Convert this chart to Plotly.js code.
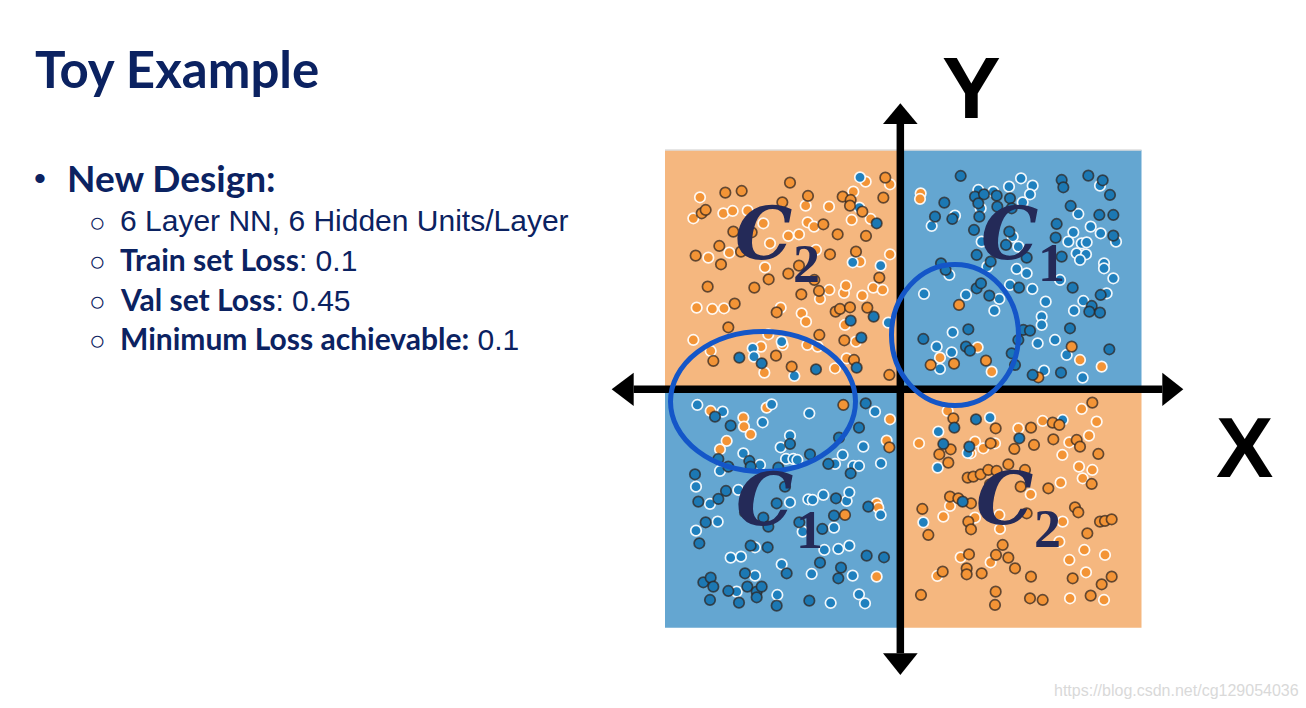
<!DOCTYPE html>
<html>
<head>
<meta charset="utf-8">
<script src="https://cdn.plot.ly/plotly-3.0.1.min.js"></script>
<style>
  html, body { margin: 0; padding: 0; background: #ffffff; }
  #chart { width: 1306px; height: 708px; }
</style>
</head>
<body>
<div id="chart"></div>
<script>
// ---------------- DATA ----------------
// Class C2 (orange) training points (dark outline)
const orangeTrainX = [-0.53,-3.39,-5.33,-4.84,-3.62,-2.85,-1.81,-1.57,-1.59,-0.59,-6.04,-5.92,-5.09,-4.54,-2.39,-1.96,-1.22,-1.11,-6.22,-5.51,-5.46,-4.86,-3.44,-3.12,-2.19,-1.41,-0.71,-5.86,-4.46,-4.03,-3.05,-2.66,-2.52,-5.05,-3.79,-2.02,-1.89,-1.59,-1.07,-5.24,-5.69,-3.81,-3.34,-2.51,-1.76,-1.47,-0.41,
  1.68,0.83,1.53,2.49,4.06,5.06,
  -1.79,-0.41,-1.74,
  5.68,1.51,2.78,3.84,4.49,4.69,1.43,1.09,2.63,3.34,3.93,4.51,5.21,5.31,5.86,1.36,1.94,2.11,2.33,2.56,2.81,3.16,3.66,2.61,3.53,4.36,5.66,0.58,1.41,1.66,2.04,0.76,1.96,2.04,3.71,2.99,5.16,5.26,5.53,5.91,6.06,6.26,1.98,2.79,3.16,3.36,1.19,1.91,1.91,2.36,3.84,5.09,5.96,6.26,0.54,2.78,2.76,3.81,4.19,5.63];
const orangeTrainY = [6.32,6.17,5.87,5.92,5.58,5.77,5.75,5.65,5.48,5.72,5.25,5.35,4.70,4.68,4.92,4.62,5.30,4.57,3.98,4.27,3.72,4.10,3.44,3.68,4.02,4.10,3.32,3.05,3.02,3.27,2.82,3.25,2.92,2.54,2.28,2.30,2.38,2.43,2.42,1.83,0.82,0.98,0.65,1.60,1.44,0.85,0.40,
  2.50,0.70,0.74,0.83,0.33,1.25,
  -0.50,-1.77,-3.80,
  -0.43,-0.90,-1.20,-1.18,-1.03,-1.10,-1.83,-1.98,-1.65,-1.82,-1.70,-1.53,-1.55,-1.75,-1.97,-2.23,-2.68,-2.65,-2.58,-2.45,-2.48,-2.28,-2.45,-2.88,-2.95,-3.00,-2.87,-3.62,-3.25,-3.30,-3.45,-4.40,-4.00,-4.23,-3.75,-4.70,-3.57,-3.72,-4.35,-4.00,-3.98,-3.93,-4.98,-5.00,-5.08,-5.40,-5.50,-5.40,-5.58,-5.55,-5.65,-5.70,-5.88,-5.65,-6.20,-6.10,-6.50,-6.30,-6.35,-6.22];

// Class C2 (orange) test points (white outline)
const orangeTestX = [-1.12,-0.39,-6.09,-2.92,-2.22,-1.49,-6.29,-5.39,-5.11,-4.66,-4.19,-3.99,-3.44,-3.12,-2.86,-2.67,-1.54,-0.97,-5.84,-5.21,-4.14,-2.61,-1.29,-0.39,-2.49,-2.21,-1.77,-1.71,-1.22,-0.89,-0.61,-6.19,-5.72,-5.37,-3.67,-3.04,-2.91,-1.74,-6.29,-5.77,-4.26,-4.16,-4.04,-3.61,-2.87,-2.56,-2.04,-1.41,-1.69,
  0.53,0.51,2.24,1.11,2.66,5.31,5.96,
  -5.77,-4.79,-4.77,-4.57,-4.09,-0.39,-0.49,-5.29,-5.49,-0.79,-0.74,-0.79,
  5.36,5.81,1.34,3.46,4.19,0.48,2.03,2.16,2.41,2.76,4.99,5.58,4.78,3.83,4.73,5.28,5.68,5.39,1.41,1.21,2.16,2.89,2.91,4.79,4.69,5.44,6.06,4.99,1.73,2.63,1.03,5.49,5.01,6.03];
const orangeTestY = [6.20,6.12,5.73,5.48,5.45,5.90,5.10,5.25,5.32,5.33,4.95,4.35,4.57,4.62,4.98,4.85,5.05,5.08,3.92,4.07,3.63,4.15,3.80,4.02,2.68,2.95,2.86,3.08,2.78,3.02,2.95,2.42,2.38,2.40,2.42,2.25,2.00,1.90,1.45,1.12,1.25,0.47,1.62,1.30,1.30,1.25,0.60,1.40,0.90,
  5.85,5.68,1.23,0.92,0.50,0.85,0.65,
  -0.68,-0.88,-1.15,-1.38,-0.58,-0.93,-1.57,-1.58,-1.83,-3.45,-3.58,-5.65,
  -0.62,-1.00,-0.68,-1.20,-0.98,-1.65,-1.95,-1.60,-1.80,-1.65,-1.62,-1.42,-2.00,-3.18,-2.83,-2.35,-2.45,-2.70,-3.53,-3.85,-3.88,-3.80,-4.22,-4.00,-4.60,-4.85,-5.00,-5.15,-5.07,-5.22,-5.63,-5.52,-6.30,-6.35];

// Class C1 (blue) training points (dark outline)
const blueTrainX = [-0.79,-1.57,-0.88,-4.91,-4.24,-2.61,-1.25,-1.39,
  1.73,2.16,2.43,2.26,2.81,2.83,3.21,3.26,4.76,4.81,5.56,5.99,6.21,1.24,0.96,1.48,2.29,2.13,3.19,3.09,2.21,2.63,3.71,4.61,4.58,5.03,4.76,5.89,6.31,6.31,1.14,1.28,2.21,2.34,2.59,3.48,5.09,5.66,5.59,5.91,5.93,3.61,3.81,3.46,5.01,0.61,1.96,1.89,2.01,3.26,3.36,3.89,4.74,6.19,
  -5.64,-5.17,-1.12,-1.32,-5.54,-5.24,-4.61,-4.57,-3.39,-3.74,-2.79,-1.92,-2.24,-1.57,-6.24,-6.14,-5.54,-5.31,-3.54,-3.79,-2.01,-1.04,-2.07,-4.74,-4.19,-4.04,-5.92,-6.11,-3.11,-2.42,-4.57,-4.06,-3.49,-2.49,-1.09,-0.57,-1.86,-1.94,-5.99,-5.77,-5.69,-4.74,-5.24,-4.67,-4.39,-4.24,-4.39,-5.79,-4.92,-3.79,-2.81,
  2.19,1.54,3.49,1.21,1.99,1.79];
const blueTrainY = [4.95,2.03,2.15,0.92,0.75,0.57,1.52,0.62,
  6.37,5.75,5.82,5.55,5.78,5.45,5.70,5.40,6.25,6.03,6.38,6.24,5.80,5.57,5.15,5.08,5.15,4.75,4.70,4.30,4.00,3.80,3.92,4.93,4.52,5.47,3.95,5.20,5.20,4.58,3.75,3.55,3.00,3.15,2.78,3.02,3.02,2.47,2.30,2.27,2.80,1.75,1.73,1.45,1.80,1.48,1.77,1.25,1.13,1.05,0.70,0.40,0.47,1.17,
  -0.85,-1.12,-0.45,-1.18,-2.12,-2.35,-2.18,-2.35,-1.67,-2.38,-1.98,-1.48,-2.27,-2.55,-2.58,-3.40,-3.32,-3.08,-2.95,-3.45,-3.30,-3.55,-3.82,-3.72,-3.88,-4.15,-4.02,-4.65,-4.02,-4.22,-4.72,-4.77,-5.55,-5.23,-5.02,-5.07,-5.38,-5.70,-5.82,-5.68,-5.95,-5.55,-6.08,-5.95,-6.10,-5.95,-6.27,-6.35,-6.43,-6.52,-6.37,
  -0.93,-1.18,-1.50,-1.67,-1.75,-3.40];

// Class C1 (blue) test points (white outline)
const blueTestX = [-1.29,-1.31,-1.51,-0.67,-0.44,-4.51,-4.47,-3.64,-3.26,
  2.26,2.33,2.71,3.18,3.54,3.89,3.81,3.59,5.91,0.86,1.56,2.36,3.29,3.46,2.53,5.26,5.11,4.96,5.36,5.51,5.21,5.49,5.31,5.63,5.93,6.39,6.03,6.03,6.31,1.39,0.63,1.89,2.89,2.74,3.21,3.41,3.71,3.88,4.28,4.16,4.16,4.71,5.41,5.13,6.11,4.04,4.56,1.01,1.49,1.46,1.11,4.23,4.91,5.39,
  -6.17,-5.41,-4.21,-3.94,-2.81,-0.84,-5.49,-4.79,-4.29,-3.39,-3.67,-3.51,-3.29,-3.17,-2.04,-1.81,-1.49,-1.32,-1.19,-0.66,-6.21,-5.79,-4.94,-3.39,-2.84,-2.71,-2.39,-1.69,-1.61,-0.67,-5.56,-6.21,-3.01,-2.07,-4.44,-5.17,-4.86,-3.64,-2.36,-1.94,-1.61,-1.51,-2.74,-4.44,-4.99,-3.77,-2.17,-1.32,-1.14,
  2.61,1.06,4.79,1.04,0.61,1.94];
const blueTestY = [6.33,5.42,3.78,3.68,1.97,1.20,0.95,1.40,0.37,
  5.95,5.40,5.90,6.05,6.30,6.08,5.82,5.58,6.08,4.87,5.18,4.40,4.55,4.25,3.65,5.23,4.68,4.40,4.35,4.38,4.05,4.02,3.85,4.85,4.65,4.40,3.75,3.60,3.30,3.40,2.83,2.80,2.68,2.33,3.10,3.58,3.45,2.98,2.60,2.15,1.90,3.25,2.62,2.33,2.85,1.35,1.45,1.25,1.68,1.08,0.58,0.53,1.00,0.32,
  -0.50,-0.70,-1.02,-0.48,-0.75,-0.70,-2.48,-1.95,-2.30,-1.42,-1.77,-2.12,-2.12,-2.15,-2.27,-2.00,-2.33,-2.33,-1.75,-2.25,-2.95,-3.47,-3.05,-3.42,-3.33,-3.35,-3.20,-3.38,-3.12,-3.80,-4.00,-4.27,-4.30,-4.18,-4.77,-5.08,-5.05,-5.28,-4.85,-4.82,-4.72,-5.62,-5.57,-5.62,-6.10,-6.20,-6.44,-6.18,-6.45,
  -0.88,-1.30,-0.95,-2.38,-4.02,-1.94];

// Text content
const slideTitle = 'Toy Example';
const bulletHead = 'New Design:';
const subBullets = [
  {bold: '', rest: '6 Layer NN, 6 Hidden Units/Layer'},
  {bold: 'Train set Loss', rest: ': 0.1'},
  {bold: 'Val set Loss', rest: ': 0.45'},
  {bold: 'Minimum Loss achievable:', rest: ' 0.1'}
];
const quadrantLabels = [
  {c: 'C', sub: '2', quad: 'topLeft'},
  {c: 'C', sub: '1', quad: 'topRight'},
  {c: 'C', sub: '1', quad: 'bottomLeft'},
  {c: 'C', sub: '2', quad: 'bottomRight'}
];
const axisNames = {x: 'X', y: 'Y'};
const watermark = 'https://blog.csdn.net/cg129054036';

// ---------------- STYLE / LAYOUT ----------------
const W = 1306, H = 708;
const NAVY = '#0b2261';
const LABEL_NAVY = '#242a58';
const ORANGE_BG = '#f5b77f', BLUE_BG = '#64a6d1';
const ORANGE = '#f39436', BLUE = '#1f80be';
const DARK_EDGE = 'rgba(45,35,30,0.72)', WHITE_EDGE = 'rgba(255,255,255,0.92)';
const BOLDFACE = 'Lato, Liberation Sans, sans-serif';
const REGULAR = 'Liberation Sans, Arial, sans-serif';

// data unit: 1 = 33.33 px, origin at page pixel (903, 388.3)
const ORX = 903, ORY = 388.3, UNIT = 0.03;
const xr = [(0 - ORX) * UNIT, (W - ORX) * UNIT];
const yr = [(ORY - H) * UNIT, ORY * UNIT];
const P = (px, py) => ({x: px / W, y: 1 - py / H});

// geometry of the decorations (in data units)
const SQ = {left: -7.14, right: 7.155, top: 7.15, bottom: -7.18};
const AX = {x0: -0.08, y0: -0.03};
const HARROW = {from: -8.08, to: 7.78, tipL: -8.74, tipR: 8.41, half: 0.5};
const VARROW = {from: -7.95, to: 7.93, tipB: -8.60, tipT: 8.55, half: 0.52};

function mk(x, y, fill, edge) {
  return {type: 'scatter', mode: 'markers', x: x, y: y, hoverinfo: 'skip',
    marker: {size: 10.5, color: fill, line: {color: edge, width: 1.7}}};
}
const traces = [
  mk(orangeTestX, orangeTestY, ORANGE, WHITE_EDGE),
  mk(blueTestX, blueTestY, BLUE, WHITE_EDGE),
  mk(orangeTrainX, orangeTrainY, ORANGE, DARK_EDGE),
  mk(blueTrainX, blueTrainY, '#1c78b3', DARK_EDGE)
];

const shapes = [
  {type: 'rect', layer: 'below', x0: SQ.left, x1: AX.x0, y0: AX.y0, y1: SQ.top, fillcolor: ORANGE_BG, line: {width: 0}},
  {type: 'rect', layer: 'below', x0: AX.x0, x1: SQ.right, y0: AX.y0, y1: SQ.top, fillcolor: BLUE_BG, line: {width: 0}},
  {type: 'rect', layer: 'below', x0: SQ.left, x1: AX.x0, y0: SQ.bottom, y1: AX.y0, fillcolor: BLUE_BG, line: {width: 0}},
  {type: 'rect', layer: 'below', x0: AX.x0, x1: SQ.right, y0: SQ.bottom, y1: AX.y0, fillcolor: ORANGE_BG, line: {width: 0}},
  {type: 'line', layer: 'below', x0: SQ.left, x1: SQ.right, y0: SQ.top, y1: SQ.top, line: {color: '#dedede', width: 1.5}},
  // axes
  {type: 'line', x0: HARROW.from, x1: HARROW.to, y0: AX.y0, y1: AX.y0, line: {color: '#000', width: 7.5}},
  {type: 'line', x0: AX.x0, x1: AX.x0, y0: VARROW.from, y1: VARROW.to, line: {color: '#000', width: 7.5}},
  {type: 'path', path: `M ${HARROW.tipL} ${AX.y0} L ${HARROW.from} ${AX.y0 + HARROW.half} L ${HARROW.from} ${AX.y0 - HARROW.half} Z`, fillcolor: '#000', line: {width: 0}},
  {type: 'path', path: `M ${HARROW.tipR} ${AX.y0} L ${HARROW.to} ${AX.y0 + HARROW.half} L ${HARROW.to} ${AX.y0 - HARROW.half} Z`, fillcolor: '#000', line: {width: 0}},
  {type: 'path', path: `M ${AX.x0} ${VARROW.tipT} L ${AX.x0 - VARROW.half} ${VARROW.to} L ${AX.x0 + VARROW.half} ${VARROW.to} Z`, fillcolor: '#000', line: {width: 0}},
  {type: 'path', path: `M ${AX.x0} ${VARROW.tipB} L ${AX.x0 - VARROW.half} ${VARROW.from} L ${AX.x0 + VARROW.half} ${VARROW.from} Z`, fillcolor: '#000', line: {width: 0}},
  // highlighted regions
  {type: 'circle', x0: -6.975, x1: -1.425, y0: -2.496, y1: 1.704, line: {color: '#1456c8', width: 5}},
  {type: 'circle', x0: -0.345, x1: 3.465, y0: -0.516, y1: 3.714, line: {color: '#1456c8', width: 5}}
];

const labelPos = {
  topLeft:     {c: [-4.20, 4.63], s: [-2.91, 3.74]},
  topRight:    {c: [3.20, 4.63],  s: [4.44, 3.77]},
  bottomLeft:  {c: [-4.15, -3.35], s: [-2.80, -4.25]},
  bottomRight: {c: [3.03, -3.32],  s: [4.34, -4.22]}
};

const annotations = [];
function addText(pos, text, font, xanchor, ref) {
  annotations.push(Object.assign({
    text: text, showarrow: false, xanchor: xanchor || 'left', yanchor: 'middle',
    font: font, borderpad: 0
  }, ref === 'data' ? {xref: 'x', yref: 'y', x: pos[0], y: pos[1]} :
     {xref: 'paper', yref: 'paper', x: pos.x, y: pos.y}));
}

addText(P(34, 69), slideTitle, {family: BOLDFACE, size: 51, color: NAVY, weight: 'bold'});
addText(P(40, 178), '•', {family: REGULAR, size: 34, color: NAVY}, 'center');
addText(P(66, 177), bulletHead, {family: BOLDFACE, size: 37, color: NAVY, weight: 'bold'});
const lineY = [220, 259, 299, 338];
subBullets.forEach((b, i) => {
  addText(P(97, lineY[i] + 2), '○', {family: REGULAR, size: 28, color: NAVY}, 'center');
  const t = (b.bold ? `<span style="font-family:Lato, Liberation Sans, sans-serif;font-weight:bold;font-size:30px">${b.bold}</span>` : '') + b.rest;
  addText(P(119, lineY[i]), t, {family: REGULAR, size: 30, color: NAVY});
});

quadrantLabels.forEach(l => {
  const p = labelPos[l.quad];
  addText(p.c, `<i>${l.c}</i>`, {family: 'DejaVu Serif, serif', size: 72, color: LABEL_NAVY, weight: 'bold'}, 'center', 'data');
  addText(p.s, l.sub, {family: 'Liberation Serif, serif', size: 54, color: LABEL_NAVY, weight: 'bold'}, 'center', 'data');
});

addText(P(971.5, 87), axisNames.y, {family: REGULAR, size: 88, color: '#000', weight: 'bold'}, 'center');
addText(P(1244, 447), axisNames.x, {family: REGULAR, size: 86, color: '#000', weight: 'bold'}, 'center');
addText(P(1053, 690), watermark, {family: REGULAR, size: 16, color: '#d9d9d9'});

const layout = {
  width: W, height: H,
  margin: {l: 0, r: 0, t: 0, b: 0, pad: 0},
  paper_bgcolor: '#ffffff', plot_bgcolor: '#ffffff',
  showlegend: false,
  xaxis: {range: xr, visible: false, fixedrange: true},
  yaxis: {range: yr, visible: false, fixedrange: true},
  shapes: shapes,
  annotations: annotations
};

Plotly.newPlot('chart', traces, layout, {staticPlot: true, displayModeBar: false});
</script>
</body>
</html>
